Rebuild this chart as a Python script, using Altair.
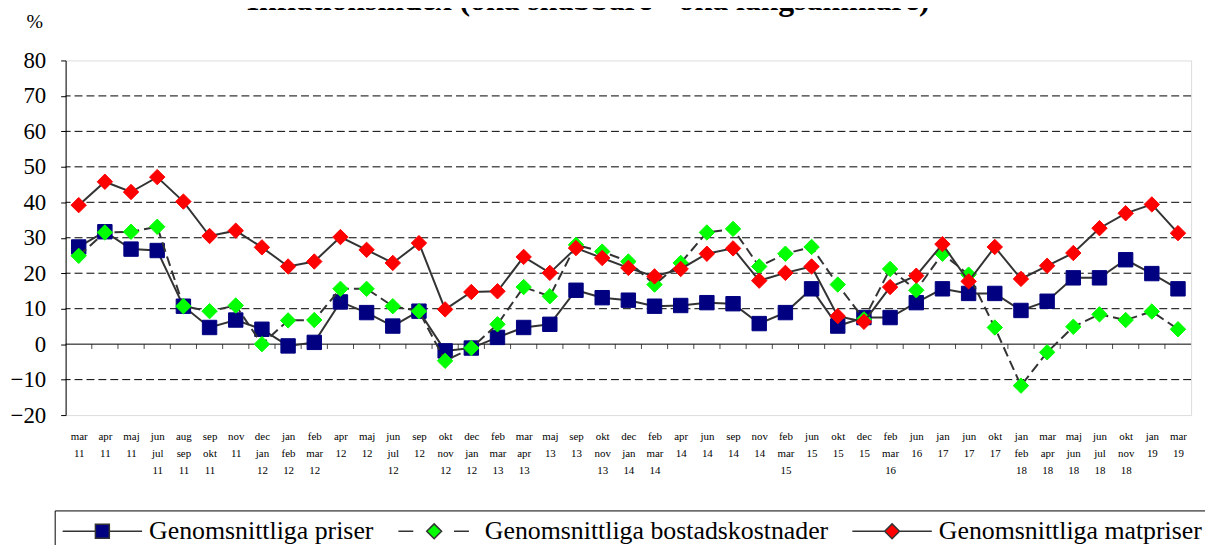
import json
import pandas as pd
import altair as alt

TITLE = "Inflationsindex (öka snabbare - öka långsammare)"
Y_TITLE = "%"

x_labels = ["mar|11", "apr|11", "maj|11", "jun|jul|11", "aug|sep|11", "sep|okt|11", "nov|11",
            "dec|jan|12", "jan|feb|12", "feb|mar|12", "apr|12", "maj|12", "jun|jul|12", "sep|12",
            "okt|nov|12", "dec|jan|12", "feb|mar|13", "mar|apr|13", "maj|13", "sep|13", "okt|nov|13",
            "dec|jan|14", "feb|mar|14", "apr|14", "jun|14", "sep|14", "nov|14", "feb|mar|15",
            "jun|15", "okt|15", "dec|15", "feb|mar|16", "jun|16", "jan|17", "jun|17", "okt|17",
            "jan|feb|18", "mar|apr|18", "maj|jun|18", "jun|jul|18", "okt|nov|18", "jan|19", "mar|19"]

series_names = ["Genomsnittliga priser", "Genomsnittliga bostadskostnader", "Genomsnittliga matpriser"]

priser = [27.4, 31.7, 26.8, 26.4, 10.7, 4.7, 6.8, 4.2, -0.5, 0.5,
          11.9, 8.9, 5.1, 9.3, -1.9, -1.1, 1.9, 4.7, 5.6, 15.2,
          13.1, 12.4, 10.7, 10.9, 11.7, 11.4, 5.8, 8.9, 15.6, 5.1,
          7.5, 7.5, 11.7, 15.6, 14.3, 14.3, 9.5, 12.1, 18.7, 18.7,
          23.8, 19.9, 15.6]
bostad = [24.9, 31.5, 31.7, 33.1, 10.7, 9.3, 10.9, 0.0, 6.7, 6.8,
          15.6, 15.6, 10.7, 9.3, -4.7, -1.1, 5.6, 16.1, 13.5, 28.0,
          26.1, 23.3, 16.8, 22.9, 31.5, 32.5, 21.9, 25.5, 27.4, 16.8,
          7.0, 21.2, 15.2, 25.5, 19.6, 4.7, -11.7, -2.3, 4.9, 8.4,
          6.8, 9.2, 4.2]
mat = [39.2, 45.8, 42.9, 47.1, 40.2, 30.5, 32.0, 27.3, 21.9, 23.3,
       30.2, 26.6, 22.9, 28.5, 9.8, 14.7, 14.9, 24.6, 20.1, 27.1,
       24.3, 21.5, 19.1, 21.2, 25.5, 27.0, 17.9, 20.1, 21.9, 7.9,
       6.3, 16.1, 19.3, 28.2, 17.7, 27.4, 18.4, 22.1, 25.7, 32.7,
       36.9, 39.4, 31.3]

y_ticks = [-20, -10, 0, 10, 20, 30, 40, 50, 60, 70, 80]
grid_values = [-10, 10, 20, 30, 40, 50, 60, 70]
zero_value = [0]

# ---- styles ----
FONT = "Liberation Serif"
W, H = 1133, 357
LINE_COLOR = "#333333"
marker_colors = ["#000080", "#00ff00", "#ff0000"]
marker_shapes = ["square", "diamond", "diamond"]
marker_sizes = [210, 240, 240]
line_dashes = [None, [10, 5], None]
legend_paths = [
    "M-1.3,0H2M3.4,0H6.7M2,-0.7H3.4V0.7H2Z",
    "M-1.3,0H0.2M1.55,0L2.3,-0.75L3.05,0L2.3,0.75ZM4.3,0H5.8",
    "M-1.3,0H1.95M3.45,0H6.7M1.95,0L2.7,-0.75L3.45,0L2.7,0.75Z",
]

n = len(x_labels)
values = [priser, bostad, mat]
df = pd.DataFrame({
    "i": [i for _ in series_names for i in range(n)],
    "series": [s for s in series_names for _ in range(n)],
    "v": [v for vals in values for v in vals],
})
grid_df = pd.DataFrame({"v": grid_values})
zero_df = pd.DataFrame({"v": zero_value})
bound_df = pd.DataFrame({"i": [i + 0.5 for i in range(n - 1)], "v": zero_value * (n - 1)})
title_df = pd.DataFrame({"t": [TITLE]})

label_expr = f"split({json.dumps(x_labels)}[datum.value], '|')"

x_enc = alt.X(
    "i:Q",
    scale=alt.Scale(domain=[-0.5, n - 0.5], nice=False, zero=False),
    axis=alt.Axis(values=list(range(n)), labelExpr=label_expr, ticks=False, domain=False,
                  grid=False, labelFont=FONT, labelFontSize=11, labelColor="black",
                  labelBaseline="top", labelPadding=16, labelLineHeight=17, labelAngle=0,
                  labelFlush=False, labelOverlap=False, labelBound=False, title=None),
)
y_enc = alt.Y(
    "v:Q",
    scale=alt.Scale(domain=[-20, 80], nice=False, zero=False),
    axis=alt.Axis(values=y_ticks, grid=False, tickSize=5, tickColor="black", tickWidth=1,
                  domainColor="black", domainWidth=1, labelFont=FONT, labelFontSize=23,
                  labelColor="black", labelPadding=15, labelOverlap=False, labelFlush=False,
                  labelBound=False,
                  title=Y_TITLE, titleAngle=0, titleX=-40, titleY=-39, titleAlign="left",
                  titleBaseline="middle", titleFont=FONT, titleFontSize=20,
                  titleFontWeight="normal", titleColor="black"),
)

grid = alt.Chart(grid_df).mark_rule(color="black", strokeWidth=1, strokeDash=[8, 4]).encode(y=y_enc)
zero = alt.Chart(zero_df).mark_rule(color="black", strokeWidth=1).encode(y=y_enc)
ticks = alt.Chart(bound_df).mark_tick(orient="vertical", size=5, thickness=1, color="black",
                                      yOffset=2.5).encode(x=x_enc, y=y_enc)
title_mark = alt.Chart(title_df).mark_text(
    font=FONT, fontSize=32, fontWeight="bold", color="black", align="center",
    baseline="alphabetic", clip=False,
).encode(text="t:N", x=alt.value(526), y=alt.value(-51))

layers = [grid, zero, ticks]
base = alt.Chart(df)
for name, col, shp, sz, dash in zip(series_names, marker_colors, marker_shapes, marker_sizes, line_dashes):
    sub = base.transform_filter(alt.datum.series == name)
    lkw = dict(color=LINE_COLOR, strokeWidth=2)
    if dash:
        lkw["strokeDash"] = dash
    layers.append(sub.mark_line(**lkw).encode(x=x_enc, y=y_enc))
    layers.append(sub.mark_point(shape=shp, filled=True, fill=col, stroke=col, strokeWidth=1,
                                 size=sz, opacity=1).encode(x=x_enc, y=y_enc))

leg = alt.Legend(orient="none", legendX=-11, legendY=453, direction="horizontal", title=None,
                 symbolSize=400, symbolStrokeWidth=1.5, labelFont=FONT, labelFontSize=26,
                 labelColor="black", labelOffset=61, labelLimit=600, columnPadding=21,
                 padding=8, strokeColor="black")
legend_layer = base.transform_filter("false").mark_point(filled=True, opacity=1).encode(
    x=x_enc, y=y_enc,
    shape=alt.Shape("series:N", scale=alt.Scale(domain=series_names, range=legend_paths), legend=leg),
    fill=alt.Fill("series:N", scale=alt.Scale(domain=series_names, range=marker_colors), legend=leg),
    stroke=alt.Stroke("series:N", scale=alt.Scale(domain=series_names, range=[LINE_COLOR] * 3), legend=leg),
)
layers.append(legend_layer)
layers.append(title_mark)

chart = alt.layer(*layers).properties(
    width=W, height=H,
    padding={"left": 58, "top": 51, "right": 14, "bottom": 130},
    autosize=alt.AutoSizeParams(type="none"),
).configure_view(stroke="#999999", strokeWidth=2).configure_axisY(labelOverlap=False).configure(background="white")

chart.save("out.html", embed_options={"renderer": "svg", "actions": False})
